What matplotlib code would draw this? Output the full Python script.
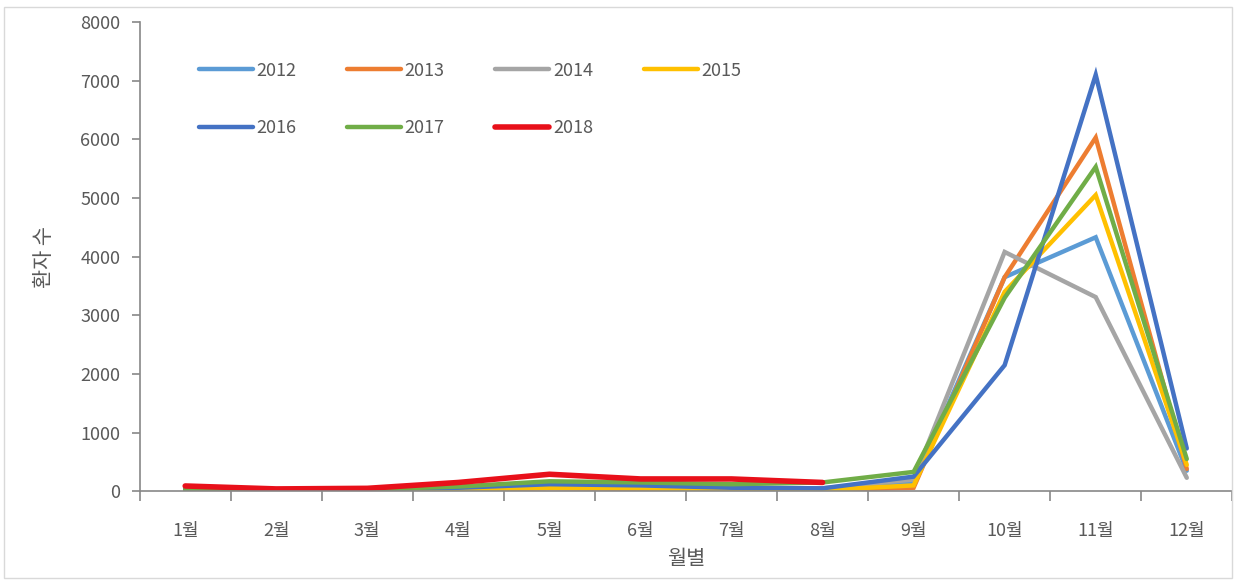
import matplotlib
matplotlib.use("Agg")
import matplotlib.pyplot as plt
import numpy as np

plt.rcParams['font.family'] = ['Noto Sans CJK KR', 'DejaVu Sans']

months = ['1월', '2월', '3월', '4월', '5월', '6월', '7월', '8월', '9월', '10월', '11월', '12월']
years = ['2012', '2013', '2014', '2015', '2016', '2017', '2018']

y2012 = [20, 15, 20, 40, 80, 70, 40, 30, 150, 3650, 4330, 350]
y2013 = [20, 15, 20, 30, 50, 40, 20, 20, 60, 3650, 6030, 380]
y2014 = [40, 30, 40, 60, 100, 90, 60, 50, 200, 4080, 3310, 230]
y2015 = [20, 10, 15, 30, 60, 50, 20, 20, 100, 3400, 5050, 450]
y2016 = [40, 30, 40, 60, 120, 100, 60, 50, 250, 2150, 7100, 730]
y2017 = [30, 20, 30, 80, 170, 150, 120, 150, 330, 3300, 5530, 550]
y2018 = [90, 40, 50, 150, 290, 210, 210, 150]

series = [y2012, y2013, y2014, y2015, y2016, y2017, y2018]
colors = ['#5B9BD5', '#ED7D31', '#A5A5A5', '#FFC000', '#4472C4', '#70AD47', '#E8101A']
widths = [3.2, 3.2, 3.2, 3.2, 3.2, 3.2, 4.0]

fig = plt.figure(figsize=(12.36, 5.8), dpi=100)
ax = fig.add_axes([0.113, 0.153, 0.884, 0.809])

handles = []
for yr, vals, c, w in zip(years, series, colors, widths):
    h, = ax.plot(np.arange(len(vals)), vals, color=c, lw=w, label=yr,
                 solid_capstyle='round', solid_joinstyle='miter')
    handles.append(h)

ax.set_xlim(-0.5, 11.5)
ax.set_ylim(0, 8000)
ax.set_yticks(np.arange(0, 8001, 1000))
ax.set_xticks(np.arange(-0.5, 12, 1))
ax.set_xticklabels([])
ax.set_xticks(np.arange(12), minor=True)
ax.set_xticklabels(months, minor=True)
ax.tick_params(axis='x', which='major', length=7, color='#888888', width=1.2)
ax.tick_params(axis='x', which='minor', length=0, pad=22, labelsize=13, labelcolor='#595959')
ax.tick_params(axis='y', length=6, color='#888888', width=1.2, labelsize=13, labelcolor='#595959', pad=8)

for s in ['top', 'right']:
    ax.spines[s].set_visible(False)
for s in ['left', 'bottom']:
    ax.spines[s].set_color('#888888')
    ax.spines[s].set_linewidth(1.2)

ax.set_xlabel('월별', fontsize=15, color='#595959', labelpad=6)
ax.set_ylabel('환자 수', fontsize=15, color='#595959', labelpad=18)

order = [0, 4, 1, 5, 2, 6, 3]
leg = ax.legend([handles[i] for i in order], [years[i] for i in order],
                loc='upper left', bbox_to_anchor=(0.039, 0.95), ncol=4, frameon=False,
                fontsize=13, handlelength=3.0, handletextpad=0.2, columnspacing=2.8,
                labelspacing=2.2)
for t in leg.get_texts():
    t.set_color('#595959')

border = plt.Rectangle((0.003, 0.003), 0.994, 0.985, transform=fig.transFigure,
                       fill=False, edgecolor='#D9D9D9', lw=1)
fig.patches.append(border)

fig.savefig('out.png', dpi=100)
